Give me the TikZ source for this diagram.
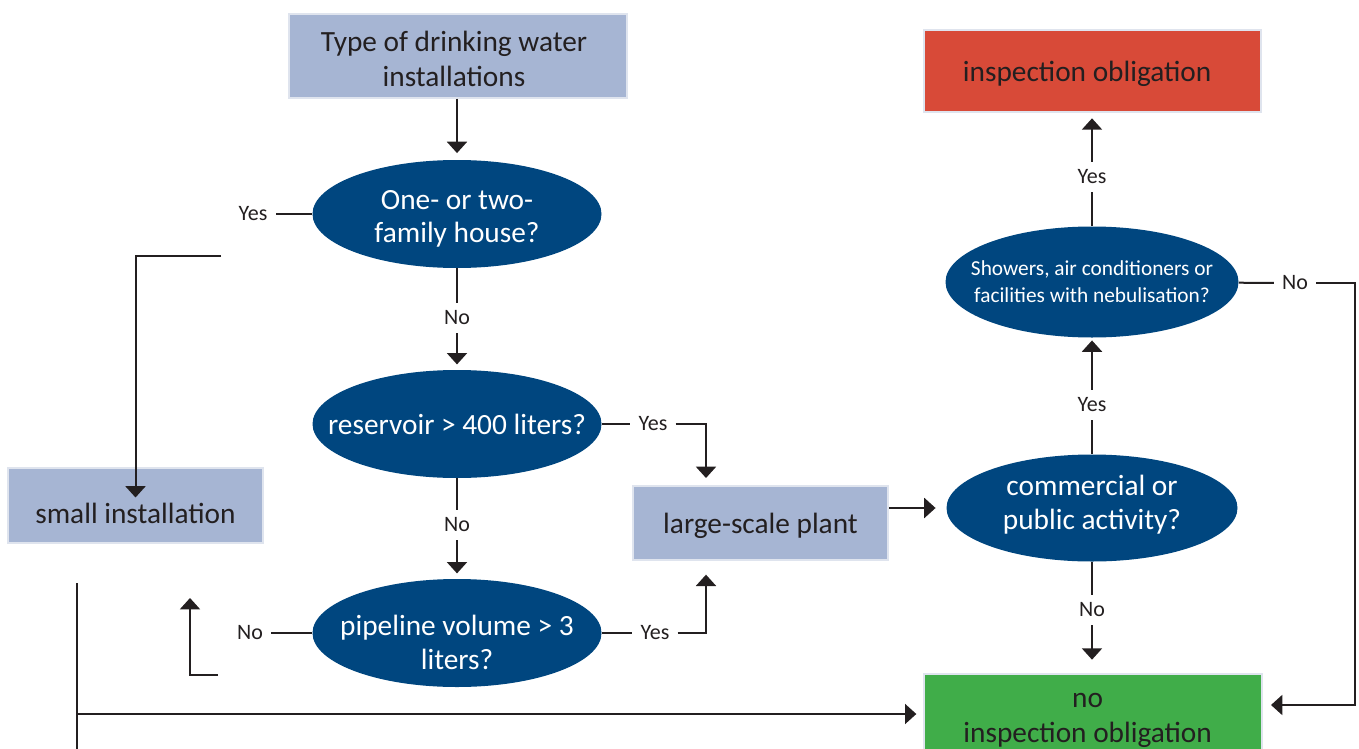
\documentclass[tikz,border=0pt]{standalone}
\usepackage{fontspec}
\setmainfont{Carlito}
\usetikzlibrary{arrows.meta,shapes.geometric}
\definecolor{boxblue}{HTML}{A6B5D3}
\definecolor{boxedge}{HTML}{DFE4EE}
\definecolor{qblue}{HTML}{00467F}
\definecolor{dutyred}{HTML}{D84A38}
\definecolor{freegreen}{HTML}{40AD49}
\definecolor{ink}{HTML}{231F20}
\begin{document}
\begin{tikzpicture}[x=0.75pt,y=-0.75pt,
	box/.style={draw=boxedge, line width=1.5pt, fill=boxblue, inner sep=0pt},
	caption/.style={text=ink, align=center, yshift=-2.25pt, font=\fontsize{22}{26}\selectfont},
	question/.style={ellipse, fill=qblue, inner sep=0pt},
	qtext/.style={text=white, align=center, font=\fontsize{22}{25}\selectfont},
	answer/.style={text=ink, inner xsep=6pt, inner ysep=6pt, font=\fontsize{16.5}{20}\selectfont},
	flow/.style={draw=ink, line width=1.5pt},
	arr/.style={flow, -{Triangle[width=15pt,length=8.5pt]}}]
	\useasboundingbox (0,0) rectangle (1359,749);
	
	%Kaesten
	\node[box, minimum width=253.5pt, minimum height=62.25pt, label={[caption, xshift=-3pt]center:{Type of drinking water\\installations}}] (type) at (458,56) {};
	\node[box, minimum width=191.25pt, minimum height=56.25pt, label={[caption, yshift=-3.75pt]center:{small installation}}] (small) at (135.5,505.5) {};
	\node[box, minimum width=191.25pt, minimum height=55.5pt, label={[caption]center:{large-scale plant}}] (large) at (760.5,523) {};
	\node[box, fill=dutyred, minimum width=252.75pt, minimum height=61.5pt, label={[caption, xshift=-4pt]center:{inspection obligation}}] (duty) at (1092.5,71) {};
	\node[box, fill=freegreen, minimum width=253.5pt, minimum height=60pt, label={[caption, xshift=-4pt, yshift=-2.5pt]center:{no\\inspection obligation}}] (noduty) at (1093,714) {};
	
	%Fragen
	\node[question, minimum width=216.75pt, minimum height=81pt, label={[qtext, yshift=-3.4pt]center:{One- or two-\\family house?}}] (house) at (457,214) {};
	\node[question, minimum width=216.75pt, minimum height=81pt, label={[qtext]center:{reservoir > 400 liters?}}] (reservoir) at (457,424) {};
	\node[question, minimum width=216.75pt, minimum height=81pt, label={[qtext, yshift=-7pt]center:{pipeline volume > 3\\liters?}}] (pipe) at (457,633) {};
	\node[question, minimum width=218.25pt, minimum height=80.25pt, label={[qtext, yshift=2.6pt]center:{commercial or\\public activity?}}] (trade) at (1092,508) {};
	\node[question, minimum width=219.75pt, minimum height=83.25pt, label={[qtext, font=\fontsize{16}{20}\selectfont]center:{Showers, air conditioners or\\facilities with nebulisation?}}] (shower) at (1092,282) {};
	
	%Antworten
	\node[answer] (yesHouse) at (253,214) {Yes};
	\node[answer] (noHouse) at (457,318) {No};
	\node[answer] (yesRes) at (653,424) {Yes};
	\node[answer] (noRes) at (457,525) {No};
	\node[answer] (yesPipe) at (655,633) {Yes};
	\node[answer] (noPipe) at (250,633) {No};
	\node[answer] (yesTrade) at (1092,405) {Yes};
	\node[answer] (noTrade) at (1092,610) {No};
	\node[answer] (yesShower) at (1092,177) {Yes};
	\node[answer] (noShower) at (1295,283) {No};
	
	\coordinate (houseYesEnd) at (221,256);
	\coordinate (resYesDrop) at (706,486);
	\coordinate (pipeYesRise) at (706,560);
	\coordinate (pipeNoStart) at (218,675);
	\coordinate (pipeNoTip) at (190,598);
	\coordinate (railTop) at (77,583);
	\coordinate (railBottom) at (77,749);
	\coordinate (railRight) at (1355,705);
	
	%linke Seite
	\draw[arr, shorten >=5pt] (type.south -| house) -- (house);
	\draw[flow] (house) -- (yesHouse);
	\draw[arr, shorten >=6pt] (houseYesEnd) -| (small.center);
	\draw[flow] (house) -- (noHouse);
	\draw[arr, shorten >=4pt] (noHouse) -- (reservoir);
	\draw[flow] (reservoir) -- (yesRes);
	\draw[arr, shorten >=6pt] (yesRes) -| (resYesDrop);
	\draw[flow] (reservoir) -- (noRes);
	\draw[arr, shorten >=4pt] (noRes) -- (pipe);
	\draw[flow] (pipe) -- (yesPipe);
	\draw[arr, shorten >=11pt] (yesPipe) -| (pipeYesRise);
	\draw[flow] (pipe) -- (noPipe);
	\draw[arr] (pipeNoStart) -| (pipeNoTip);
	\draw[flow] (railTop) -- (railBottom);
	\draw[arr, shorten >=5pt] (railTop |- noduty) -- (noduty);
	
	%rechte Seite
	\draw[arr, shorten >=8pt] (large.east |- trade) -- (trade);
	\draw[flow] (trade) -- (yesTrade);
	\draw[arr, shorten >=2pt] (yesTrade) -- (shower);
	\draw[flow] (shower) -- (yesShower);
	\draw[arr, shorten >=4pt] (yesShower) -- (yesShower |- duty.south);
	\draw[flow] (trade) -- (noTrade);
	\draw[arr, shorten >=10pt] (noTrade) -- (noTrade |- noduty.north);
	\draw[flow] (shower) -- (noShower);
	\draw[arr, shorten >=6pt] (noShower) -| (railRight) -- (railRight -| noduty.east);
\end{tikzpicture}
\end{document}
